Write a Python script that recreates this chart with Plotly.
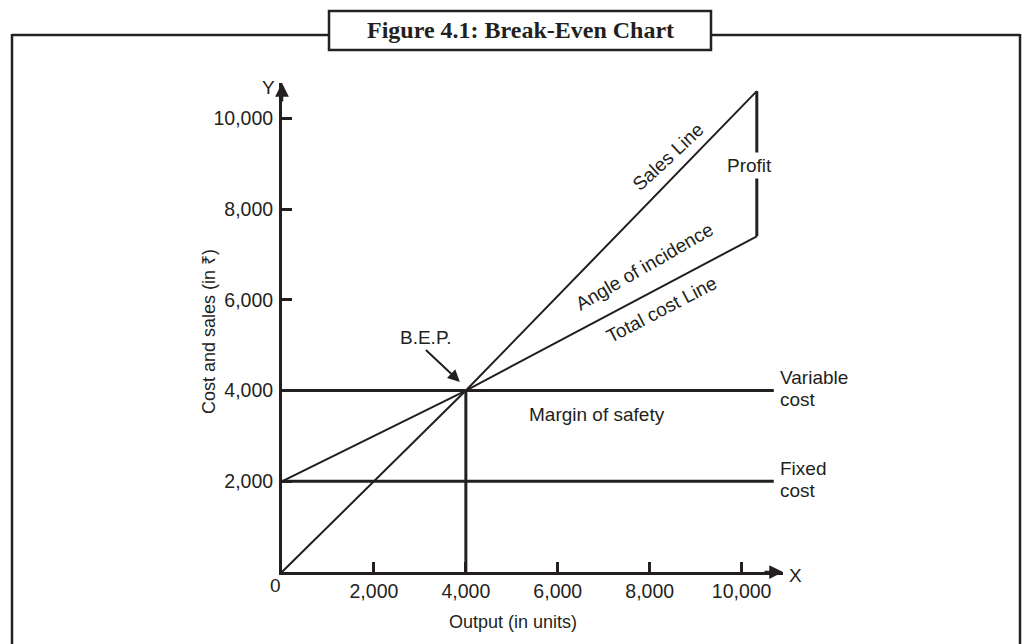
import plotly.graph_objects as go

# ---------------- data ----------------
output_units = [0, 4000, 10330]          # x values of the sloped lines
sales_values = [0, 4000, 10600]          # sales line
total_cost_values = [2000, 4000, 7400]   # total cost line
fixed_cost = 2000
variable_cost = 4000
line_end = 10700
bep_x, bep_y = 4000, 4000
profit_x = 10330
profit_low, profit_high = 7400, 10600
x_ticks = [2000, 4000, 6000, 8000, 10000]
y_ticks = [2000, 4000, 6000, 8000, 10000]
x_tick_labels = ["2,000", "4,000", "6,000", "8,000", "10,000"]
y_tick_labels = ["2,000", "4,000", "6,000", "8,000", "10,000"]

# ---------------- layout geometry ----------------
W, H = 1032, 644
OFF = 8  # page body margin
ML, MR, MT, MB = 274, 257, 75, 80
X_MAX, Y_MAX = 10900, 10780
PW, PH = W - ML - MR, H - MT - MB

def px(xs):
    return (xs - OFF - ML) / PW

def py(ys):
    return (H - MB - (ys - OFF)) / PH

INK = "#231f20"
FONT = "Liberation Sans, Arial, sans-serif"

fig = go.Figure()

def line(x, y, w):
    fig.add_trace(go.Scatter(x=x, y=y, mode="lines", line=dict(color=INK, width=w),
                             hoverinfo="skip", showlegend=False, cliponaxis=False))

line(output_units, sales_values, 2)
line(output_units, total_cost_values, 2)
line([0, line_end], [fixed_cost, fixed_cost], 3)
line([0, line_end], [variable_cost, variable_cost], 3)
line([bep_x, bep_x], [0, bep_y], 3)
line([profit_x, profit_x], [profit_low, profit_high], 3)

ann = []

def text(x, y, t, size=19, angle=0, xanchor="center", yanchor="middle", xref="x", yref="y",
         bg=None, xshift=0, yshift=0, align="center", family=FONT):
    d = dict(x=x, y=y, text=t, showarrow=False, textangle=angle, xanchor=xanchor,
             yanchor=yanchor, xref=xref, yref=yref, xshift=xshift, yshift=yshift, align=align,
             font=dict(family=family, size=size, color=INK))
    if bg:
        d.update(bgcolor=bg, borderpad=2)
    ann.append(d)

text(8413, 9149, "Sales Line", angle=-43)
text(7891, 6724, "Angle of incidence", angle=-30)
text(8261, 5776, "Total cost Line", angle=-27.5)
text(6848, 3483, "Margin of safety")
text(profit_x, (profit_low + profit_high) / 2 - 30, "Profit", bg="white", xshift=-7)
text(line_end, variable_cost, "Variable", xanchor="left", xshift=4, yshift=13)
text(line_end, variable_cost, "cost", xanchor="left", xshift=4, yshift=-9)
text(line_end, fixed_cost, "Fixed", xanchor="left", xshift=4, yshift=13)
text(line_end, fixed_cost, "cost", xanchor="left", xshift=4, yshift=-9)
text(px(275), py(585), "0", xref="paper", yref="paper")
text(px(268), py(87), "Y", xref="paper", yref="paper")
text(px(795), py(575), "X", xref="paper", yref="paper")
text(px(209), py(332), "Cost and sales (in ₹)", size=18, angle=-90, xref="paper", yref="paper")
text(px(513), py(622), "Output (in units)", size=18, xref="paper", yref="paper")
text(px(520), py(30), "<b>Figure 4.1: Break-Even Chart</b>", size=24, xref="paper", yref="paper",
     family="Liberation Serif, Times New Roman, serif")

# BEP arrow
ann.append(dict(x=bep_x - 130, y=bep_y + 190, xref="x", yref="y", ax=-34, ay=-32,
                text="B.E.P.", showarrow=True, arrowhead=2, arrowsize=1.2, arrowwidth=2,
                arrowcolor=INK, xanchor="center", yanchor="bottom",
                font=dict(family=FONT, size=19, color=INK)))
# axis arrow heads
ann.append(dict(x=X_MAX, y=0, xref="x", yref="y", ax=-20, ay=0, text="", showarrow=True,
                arrowhead=2, arrowsize=1.1, arrowwidth=2.5, arrowcolor=INK))
ann.append(dict(x=0, y=Y_MAX, xref="x", yref="y", ax=0, ay=20, text="", showarrow=True,
                arrowhead=2, arrowsize=1.1, arrowwidth=2.5, arrowcolor=INK))

shapes = []
def seg(x0, y0, x1, y1, w=2.5, color="#222222"):
    shapes.append(dict(type="line", xref="paper", yref="paper", x0=px(x0), y0=py(y0),
                       x1=px(x1), y1=py(y1), line=dict(color=color, width=w)))

# outer frame
seg(12, 35, 329, 35)
seg(711, 35, 1020, 35)
seg(12, 34, 12, 660)
seg(1020, 34, 1020, 660)
# title box
shapes.append(dict(type="rect", xref="paper", yref="paper", x0=px(329), y0=py(11), x1=px(711),
                   y1=py(50), line=dict(color="#222222", width=2.5), fillcolor="white"))

axis_common = dict(showgrid=False, zeroline=False, showline=True, linecolor=INK, linewidth=3,
                   ticks="inside", ticklen=10, tickwidth=3, tickcolor=INK,
                   tickfont=dict(family=FONT, size=19.5, color=INK), fixedrange=True)

fig.update_layout(
    width=W, height=H, margin=dict(l=ML, r=MR, t=MT, b=MB),
    paper_bgcolor="white", plot_bgcolor="white",
    xaxis=dict(range=[0, X_MAX], tickvals=x_ticks, ticktext=x_tick_labels,
               ticklabelstandoff=0, **axis_common),
    yaxis=dict(range=[0, Y_MAX], tickvals=y_ticks, ticktext=y_tick_labels,
               ticklabelstandoff=2, **axis_common),
    annotations=ann, shapes=shapes, showlegend=False,
)

fig.write_html("out.html")
